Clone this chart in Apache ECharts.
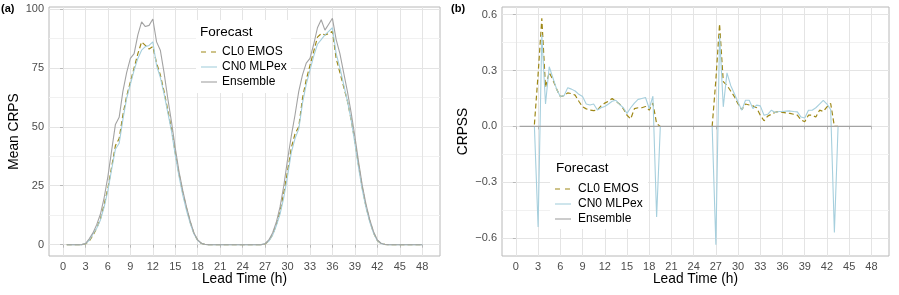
<!DOCTYPE html>
<html><head><meta charset="utf-8">
<script src="https://cdn.jsdelivr.net/npm/echarts@6/dist/echarts.min.js"></script>
<style>html,body{margin:0;padding:0;background:#fff}#c{width:899px;height:295px}</style>
</head><body><div id="c"></div>
<script>
// ---------- data ----------
const leadTime = [0.5,1,1.5,2,2.5,3,3.5,4,4.5,5,5.5,6,6.5,7,7.5,8,8.5,9,9.5,10,10.5,11,11.5,12,12.5,13,13.5,14,14.5,15,15.5,16,16.5,17,17.5,18,18.5,19,19.5,20,20.5,21,21.5,22,22.5,23,23.5,24,24.5,25,25.5,26,26.5,27,27.5,28,28.5,29,29.5,30,30.5,31,31.5,32,32.5,33,33.5,34,34.5,35,35.5,36,36.5,37,37.5,38,38.5,39,39.5,40,40.5,41,41.5,42,42.5,43,43.5,44,44.5,45,45.5,46,46.5,47,47.5,48];

const crpsEMOS = [0,0,0,0,0.02,
 0.3,1.5,4,7,11,17,24,33,42,45,55,63,69,75,81,86,84.5,83,84,77,72,65,57,49,39,30,22,15.5,9.5,4.7,1.8,0.5,0.1,
 0.02,0,0,0,0,0,0,0,0,0,0,0,0,0,0.02,
 0.3,1.6,4.2,8.5,14,22,31,41,47,50,62,70,76,82,88,89.5,89,89.5,90.5,79,73,67,61,53,44,33.5,24,16,10,5,1.8,0.5,0.1,
 0.02,0,0,0,0,0,0,0,0,0];
const crpsMLPex = [0,0,0,0,0.02,
 0.4,1.8,4.5,7,10.5,16,23,32,40.5,43,53,62,68,74,79,82.5,84,84.5,86,76,71,64,56,48,38,29,21,14.5,9,4.5,1.8,0.5,0.1,
 0.02,0,0,0,0,0,0,0,0,0,0,0,0,0,0.02,
 0.4,1.5,4,8,13,20,29,39,45,49,60,68,74,80,85,87,89,90.5,92,81,75,68,61,53,43,32.5,23,15.5,9.5,4.8,1.7,0.5,0.1,
 0.02,0,0,0,0,0,0,0,0,0];
const crpsEnsemble = [0,0,0,0,0.03,
 0.5,2.5,5,8.5,13,20,29,40,51,54,65,73,79,81,89,94.5,92.5,93,95.7,86,82.5,73,62,52,41,31,23,16,10,5,2,0.6,0.1,
 0.03,0,0,0,0,0,0,0,0,0,0,0,0,0,0.03,
 0.4,2,5,9.5,16,25,36,46,55,65,72,77,79,85,92,95.4,91,93.5,96,87,81,73,65,56,46,35,25,17,10.5,5.5,2,0.6,0.1,
 0.03,0,0,0,0,0,0,0,0,0];

const crpssEMOS = [null,null,null,null,
 0.01,0.28,0.58,0.21,0.29,0.25,0.2,0.16,0.165,0.18,
 0.176,0.168,0.135,0.105,0.094,0.088,0.085,0.087,0.11,0.125,
 0.135,0.15,0.135,0.12,0.095,0.06,0.04,0.095,0.1,0.1,
 0.107,0.087,0.125,0.015,0,
 null,null,null,null,null,null,null,null,null,null,null,null,null,
 0,0.25,0.55,0.24,0.22,0.19,0.16,0.12,0.09,0.12,
 0.115,0.11,0.1,0.06,0.03,0.055,0.065,0.075,0.08,0.075,
 0.072,0.07,0.065,0.06,0.035,0.025,0.06,0.06,0.05,0.087,
 0.08,0.105,0.123,0,0,
 null,null,null,null,null,null,null,null,null];
const crpssMLPex = [null,null,null,null,
 0,-0.54,0.49,0.12,0.32,0.26,0.2,0.16,0.165,0.208,
 0.2,0.19,0.172,0.16,0.12,0.115,0.12,0.088,0.1,0.107,
 0.12,0.135,0.14,0.118,0.1,0.07,0.1,0.125,0.145,0.15,
 0.155,0.096,0.162,-0.487,0,
 null,null,null,null,null,null,null,null,null,null,null,null,null,
 0,-0.635,0.49,0.105,0.287,0.22,0.175,0.13,0.087,0.14,
 0.14,0.096,0.114,0.11,0.06,0.065,0.087,0.075,0.08,0.08,
 0.082,0.083,0.08,0.078,0.05,0.045,0.087,0.087,0.1,0.12,
 0.14,0.12,0.09,-0.57,0,
 null,null,null,null,null,null,null,null,null];
const crpssEnsemble = leadTime.map(() => 0);

const xTicks = [0,3,6,9,12,15,18,21,24,27,30,33,36,39,42,45,48];
const yTicksA = [0,25,50,75,100];
const yMinorA = [12.5,37.5,62.5,87.5];
const yTicksB = [-0.6,-0.3,0,0.3,0.6];
const yMinorB = [-0.45,-0.15,0.15,0.45];
const seriesNames = ['CL0 EMOS','CN0 MLPex','Ensemble'];

// ---------- style ----------
const FONT = "'Liberation Sans', Arial, Helvetica, sans-serif";
const COL = {'CL0 EMOS':'#9E8817','CN0 MLPex':'#A6CFDD','Ensemble':'#A3A3A3'};
const GRID_MAJOR = '#E4E4E4', GRID_MINOR = '#F1F1F1', BORDER = '#B8B8B8', TXT = '#4D4D4D';

const zip = arr => leadTime.map((h,i) => [h, arr[i]]);

function xAxisFor(gi){
  return {type:'value', gridIndex:gi, min:-1.875, max:50.375,
    axisLine:{show:false},
    axisTick:{show:true, length:3, lineStyle:{color:BORDER}, customValues:xTicks},
    axisLabel:{customValues:xTicks, color:TXT, fontSize:11, fontFamily:FONT, margin:5},
    splitLine:{show:true, lineStyle:{color:GRID_MAJOR, width:1}}};
}
function yMajor(gi, min, max, ticks, fmt){
  return {type:'value', gridIndex:gi, min:min, max:max, position:'left',
    axisLine:{show:false},
    axisTick:{show:true, length:3, lineStyle:{color:BORDER}, customValues:ticks},
    axisLabel:{customValues:ticks, color:TXT, fontSize:11, fontFamily:FONT, margin:5, formatter:fmt},
    splitLine:{show:true, lineStyle:{color:GRID_MAJOR, width:1}}};
}
function yMinor(gi, min, max, ticks){
  return {type:'value', gridIndex:gi, min:min, max:max, position:'right',
    axisLine:{show:false},
    axisTick:{show:false, customValues:ticks},
    axisLabel:{show:false, customValues:ticks},
    splitLine:{show:true, lineStyle:{color:GRID_MINOR, width:1}}};
}
function lineSeries(name, data, xi, yi){
  return {type:'line', name:name, xAxisIndex:xi, yAxisIndex:yi, data:zip(data),
    symbol:'none', showSymbol:false, connectNulls:false, animation:false, silent:true,
    lineStyle:{color:COL[name], width: name==='CL0 EMOS'?1.2:1.1, type: name==='CL0 EMOS'?[5,3]:'solid'},
    z: name==='Ensemble'?3:(name==='CN0 MLPex'?2:1)};
}
const fmtB = v => { const r = Math.round(v*10)/10; if (r===0) return '0.0'; return (r<0?'\u2212':'') + Math.abs(r).toFixed(1); };

function legend(rx, ry, rw, rh, tx, ty, kx, textX, row0){
  const els = [
    {type:'rect', shape:{x:rx,y:ry,width:rw,height:rh}, style:{fill:'#ffffff'}, z:100},
    {type:'text', x:tx, y:ty, style:{text:'Forecast', fill:'#000', font:'13.5px '+FONT, align:'left', verticalAlign:'middle'}, z:101}
  ];
  seriesNames.forEach((n,i) => {
    const y = row0 + i*15;
    els.push({type:'line', shape:{x1:kx, y1:y, x2:kx+16, y2:y},
      style:{stroke:COL[n], lineWidth: n==='CL0 EMOS'?1.2:1.1, lineDash: n==='CL0 EMOS'?[5,5]:null}, z:101});
    els.push({type:'text', x:textX, y:y, style:{text:n, fill:'#000', font:'12px '+FONT, align:'left', verticalAlign:'middle'}, z:101});
  });
  return els;
}

const option = {
  backgroundColor:'#ffffff',
  animation:false,
  grid:[
    {left:49, top:7, width:391, height:249, show:true, borderColor:BORDER, borderWidth:1, backgroundColor:'transparent'},
    {left:502, top:7, width:387, height:249, show:true, borderColor:BORDER, borderWidth:1, backgroundColor:'transparent'}
  ],
  xAxis:[xAxisFor(0), xAxisFor(1)],
  yAxis:[
    yMajor(0, -4.8, 100.8, yTicksA, v => String(Math.round(v))),
    yMinor(0, -4.8, 100.8, yMinorA),
    yMajor(1, -0.696, 0.641, yTicksB, fmtB),
    yMinor(1, -0.696, 0.641, yMinorB)
  ],
  series:[
    lineSeries('CL0 EMOS', crpsEMOS, 0, 0),
    lineSeries('CN0 MLPex', crpsMLPex, 0, 0),
    lineSeries('Ensemble', crpsEnsemble, 0, 0),
    lineSeries('CL0 EMOS', crpssEMOS, 1, 2),
    lineSeries('CN0 MLPex', crpssMLPex, 1, 2),
    lineSeries('Ensemble', crpssEnsemble, 1, 2)
  ],
  graphic:[
    {type:'text', x:1, y:9, style:{text:'(a)', fill:'#000', font:'bold 11px '+FONT, align:'left', verticalAlign:'middle'}},
    {type:'text', x:451, y:9, style:{text:'(b)', fill:'#000', font:'bold 11px '+FONT, align:'left', verticalAlign:'middle'}},
    {type:'text', x:14, y:131.5, rotation:Math.PI/2, style:{text:'Mean CRPS', fill:'#000', font:'13.75px '+FONT, align:'center', verticalAlign:'middle'}},
    {type:'text', x:463, y:131.5, rotation:Math.PI/2, style:{text:'CRPSS', fill:'#000', font:'13.75px '+FONT, align:'center', verticalAlign:'middle'}},
    {type:'text', x:244.5, y:279.5, style:{text:'Lead Time (h)', fill:'#000', font:'13.75px '+FONT, align:'center', verticalAlign:'middle'}},
    {type:'text', x:695.5, y:279.5, style:{text:'Lead Time (h)', fill:'#000', font:'13.75px '+FONT, align:'center', verticalAlign:'middle'}},
    ...legend(196, 20, 95, 73, 200, 32, 201, 222, 52),
    ...legend(550, 156, 98, 73, 556, 168, 555, 578, 189)
  ]
};
const chart = echarts.init(document.getElementById('c'), null, {renderer:'canvas'});
chart.setOption(option);
</script></body></html>
